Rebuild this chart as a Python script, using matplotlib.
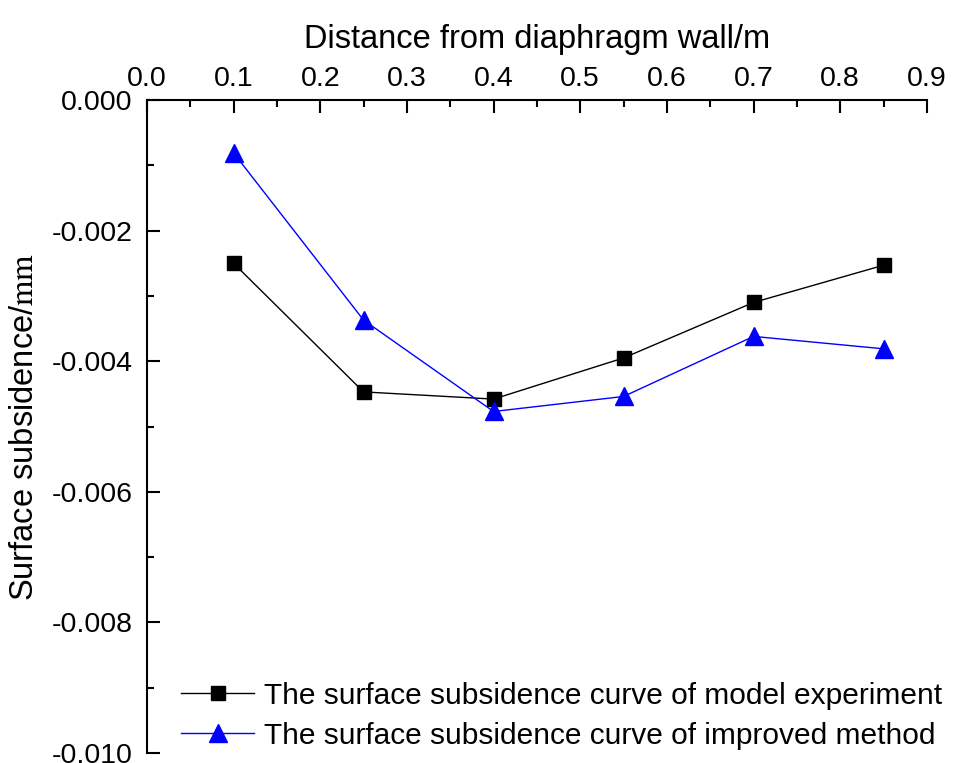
import matplotlib
matplotlib.use("Agg")
import matplotlib.pyplot as plt
from matplotlib.ticker import MultipleLocator, FormatStrFormatter

plt.rcParams['font.family'] = ['Liberation Sans', 'DejaVu Sans']
plt.rcParams['mathtext.fontset'] = 'stix'
plt.rcParams['axes.unicode_minus'] = False

# distance from the wall (m) and settlement values
distance = [0.1, 0.25, 0.4, 0.55, 0.7, 0.85]
model_experiment = [-0.00250, -0.00447, -0.00458, -0.00395, -0.00310, -0.00253]
improved_method = [-0.00081, -0.00337, -0.00477, -0.00454, -0.00362, -0.00381]

fig = plt.figure(figsize=(9.6, 7.63), dpi=100)
ax = fig.add_axes([0.153, 0.0131, 0.8125, 0.8558])

ax.plot(distance, model_experiment, color='black', lw=1.0, marker='s', ms=10,
        label='The surface subsidence curve of model experiment')
ax.plot(distance, improved_method, color='blue', lw=1.0, marker='^', ms=13,
        label='The surface subsidence curve of improved method')

ax.set_xlim(0.0, 0.9)
ax.set_ylim(-0.010, 0.0)

ax.xaxis.tick_top()
ax.xaxis.set_label_position('top')
ax.xaxis.set_major_locator(MultipleLocator(0.1))
ax.xaxis.set_minor_locator(MultipleLocator(0.05))
ax.xaxis.set_major_formatter(FormatStrFormatter('%.1f'))
ax.yaxis.set_major_locator(MultipleLocator(0.002))
ax.yaxis.set_minor_locator(MultipleLocator(0.001))
ax.yaxis.set_major_formatter(FormatStrFormatter('%.3f'))

for side in ['right', 'bottom']:
    ax.spines[side].set_visible(False)
for side in ['left', 'top']:
    ax.spines[side].set_linewidth(1.5)

ax.tick_params(which='both', direction='in', width=1.5, labelsize=20.5)
ax.tick_params(which='major', length=9)
ax.tick_params(which='minor', length=5)
ax.tick_params(axis='x', which='major', pad=6)
ax.tick_params(axis='y', which='major', pad=10.5)

ax.set_xlabel('Distance from diaphragm wall/m', fontsize=23.5, labelpad=13)
ax.set_ylabel('Surface subsidence/$\\mathrm{mm}$', fontsize=23.5)
ax.yaxis.set_label_coords(-0.137, 0.5)

ax.legend(loc='lower left', bbox_to_anchor=(0.044, 0.005), frameon=False,
          fontsize=21.5, handlelength=2.45, handletextpad=0.33,
          labelspacing=0.4, borderaxespad=0, borderpad=0)

fig.savefig('out.png', dpi=100)
